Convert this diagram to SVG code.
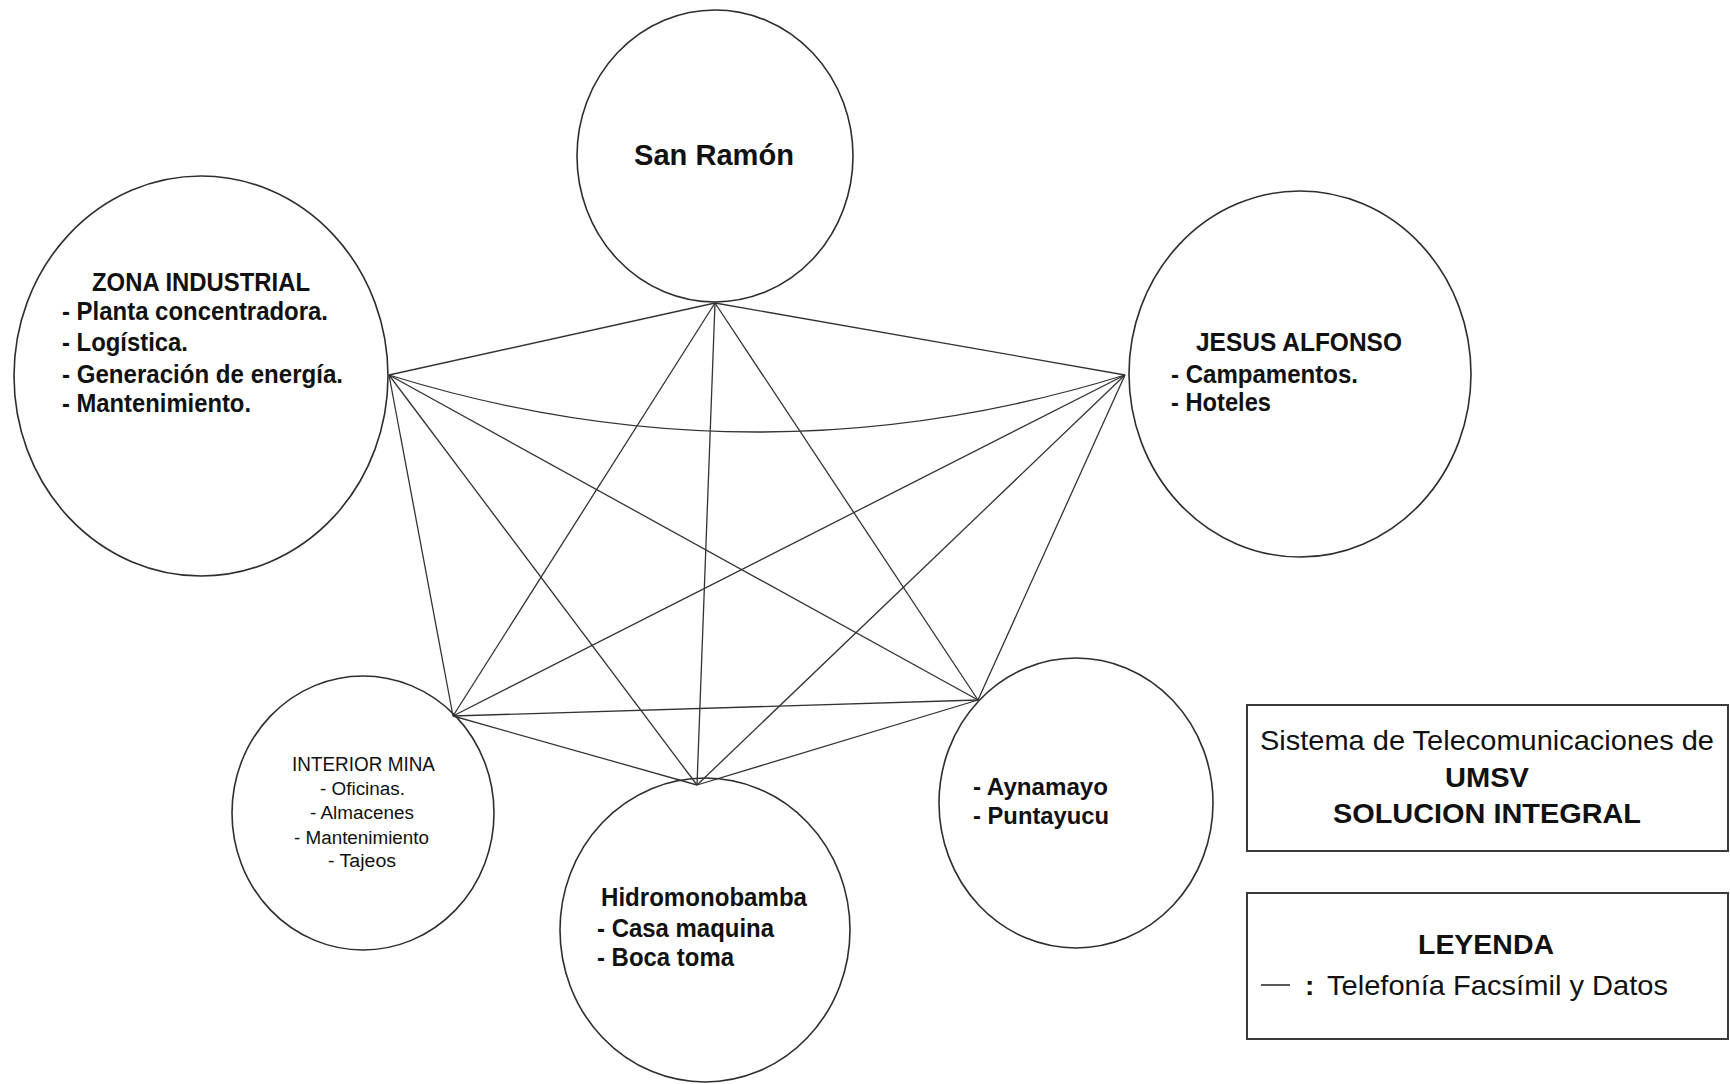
<svg xmlns="http://www.w3.org/2000/svg" width="1730" height="1084" viewBox="0 0 1730 1084">
  <style>
    .node { fill: none; stroke: #2e2e2e; stroke-width: 1.6; }
    .link { fill: none; stroke: #333; stroke-width: 1.3; }
    .box { fill: none; stroke: #3a3a3a; stroke-width: 2; }
    .b { font-family: "Liberation Sans", Arial, sans-serif; font-weight: bold; fill: #111; }
    .r { font-family: "Liberation Sans", Arial, sans-serif; font-weight: normal; fill: #111; }
  </style>
  <rect width="1730" height="1084" fill="#fff"/>

  <!-- links between sites -->
  <g id="connectors">
    <line class="link" x1="715" y1="303" x2="389" y2="375" stroke-width="1.7"/>
    <line class="link" x1="715" y1="303" x2="1125" y2="375"/>
    <path class="link" d="M389,375 Q757,489 1125,375" stroke-width="1.6"/>
    <line class="link" x1="715" y1="303" x2="453" y2="716"/>
    <line class="link" x1="715" y1="303" x2="697" y2="785"/>
    <line class="link" x1="715" y1="303" x2="978" y2="700"/>
    <line class="link" x1="389" y1="375" x2="453" y2="716"/>
    <line class="link" x1="389" y1="375" x2="697" y2="785"/>
    <line class="link" x1="389" y1="375" x2="978" y2="700"/>
    <line class="link" x1="1125" y1="375" x2="453" y2="716"/>
    <line class="link" x1="1125" y1="375" x2="697" y2="785"/>
    <line class="link" x1="1125" y1="375" x2="978" y2="700"/>
    <line class="link" x1="453" y1="716" x2="697" y2="785"/>
    <line class="link" x1="453" y1="716" x2="978" y2="700" stroke-width="1.6"/>
    <line class="link" x1="697" y1="785" x2="978" y2="700" stroke-width="1.6"/>
  </g>

  <g id="san-ramon">
    <ellipse class="node" cx="715" cy="156" rx="138" ry="146"/>
    <text class="b" x="634" y="165" font-size="30" textLength="160" lengthAdjust="spacingAndGlyphs">San Ramón</text>
  </g>

  <g id="zona-industrial">
    <ellipse class="node" cx="201" cy="376" rx="187" ry="200"/>
    <text class="b" x="92" y="291" font-size="25" textLength="218" lengthAdjust="spacingAndGlyphs">ZONA  INDUSTRIAL</text>
    <text class="b" x="62" y="320" font-size="25" textLength="266" lengthAdjust="spacingAndGlyphs">- Planta concentradora.</text>
    <text class="b" x="62" y="351" font-size="25" textLength="126" lengthAdjust="spacingAndGlyphs">- Logística.</text>
    <text class="b" x="62" y="383" font-size="25" textLength="281" lengthAdjust="spacingAndGlyphs">- Generación de energía.</text>
    <text class="b" x="62" y="412" font-size="25" textLength="189" lengthAdjust="spacingAndGlyphs">-  Mantenimiento.</text>
  </g>

  <g id="jesus-alfonso">
    <ellipse class="node" cx="1300" cy="374" rx="171" ry="183"/>
    <text class="b" x="1196" y="351" font-size="25" textLength="206" lengthAdjust="spacingAndGlyphs">JESUS ALFONSO</text>
    <text class="b" x="1171" y="383" font-size="25" textLength="187" lengthAdjust="spacingAndGlyphs">-  Campamentos.</text>
    <text class="b" x="1171" y="411" font-size="25" textLength="100" lengthAdjust="spacingAndGlyphs">- Hoteles</text>
  </g>

  <g id="interior-mina">
    <ellipse class="node" cx="363" cy="813" rx="131" ry="137"/>
    <text class="r" x="292" y="771" font-size="20" textLength="143" lengthAdjust="spacingAndGlyphs">INTERIOR MINA</text>
    <text class="r" x="320" y="795" font-size="18" textLength="85" lengthAdjust="spacingAndGlyphs">- Oficinas.</text>
    <text class="r" x="310" y="819" font-size="18" textLength="104" lengthAdjust="spacingAndGlyphs">- Almacenes</text>
    <text class="r" x="294" y="844" font-size="18" textLength="135" lengthAdjust="spacingAndGlyphs">- Mantenimiento</text>
    <text class="r" x="328" y="867" font-size="18" textLength="68" lengthAdjust="spacingAndGlyphs">- Tajeos</text>
  </g>

  <g id="hidromonobamba">
    <ellipse class="node" cx="705" cy="930" rx="145" ry="152"/>
    <text class="b" x="601" y="906" font-size="25" textLength="206" lengthAdjust="spacingAndGlyphs">Hidromonobamba</text>
    <text class="b" x="597" y="937" font-size="25" textLength="177" lengthAdjust="spacingAndGlyphs">- Casa maquina</text>
    <text class="b" x="597" y="966" font-size="25" textLength="137" lengthAdjust="spacingAndGlyphs">- Boca toma</text>
  </g>

  <g id="aynamayo">
    <ellipse class="node" cx="1076" cy="803" rx="137" ry="145"/>
    <text class="b" x="973" y="795" font-size="24" textLength="135" lengthAdjust="spacingAndGlyphs">- Aynamayo</text>
    <text class="b" x="973" y="824" font-size="24" textLength="136" lengthAdjust="spacingAndGlyphs">- Puntayucu</text>
  </g>

  <g id="title-box">
    <rect class="box" x="1247" y="705" width="481" height="146"/>
    <text class="r" x="1260" y="750" font-size="28" textLength="454" lengthAdjust="spacingAndGlyphs">Sistema de Telecomunicaciones de</text>
    <text class="b" x="1445" y="787" font-size="28" textLength="84" lengthAdjust="spacingAndGlyphs">UMSV</text>
    <text class="b" x="1333" y="823" font-size="28" textLength="308" lengthAdjust="spacingAndGlyphs">SOLUCION INTEGRAL</text>
  </g>

  <g id="legend">
    <rect class="box" x="1247" y="893" width="481" height="146"/>
    <text class="b" x="1418" y="954" font-size="28" textLength="136" lengthAdjust="spacingAndGlyphs">LEYENDA</text>
    <line x1="1261" y1="985" x2="1290" y2="985" stroke="#222" stroke-width="1.5"/>
    <text class="b" x="1305" y="995" font-size="28">:</text>
    <text class="r" x="1327" y="995" font-size="28" textLength="341" lengthAdjust="spacingAndGlyphs">Telefonía Facsímil y Datos</text>
  </g>
</svg>
